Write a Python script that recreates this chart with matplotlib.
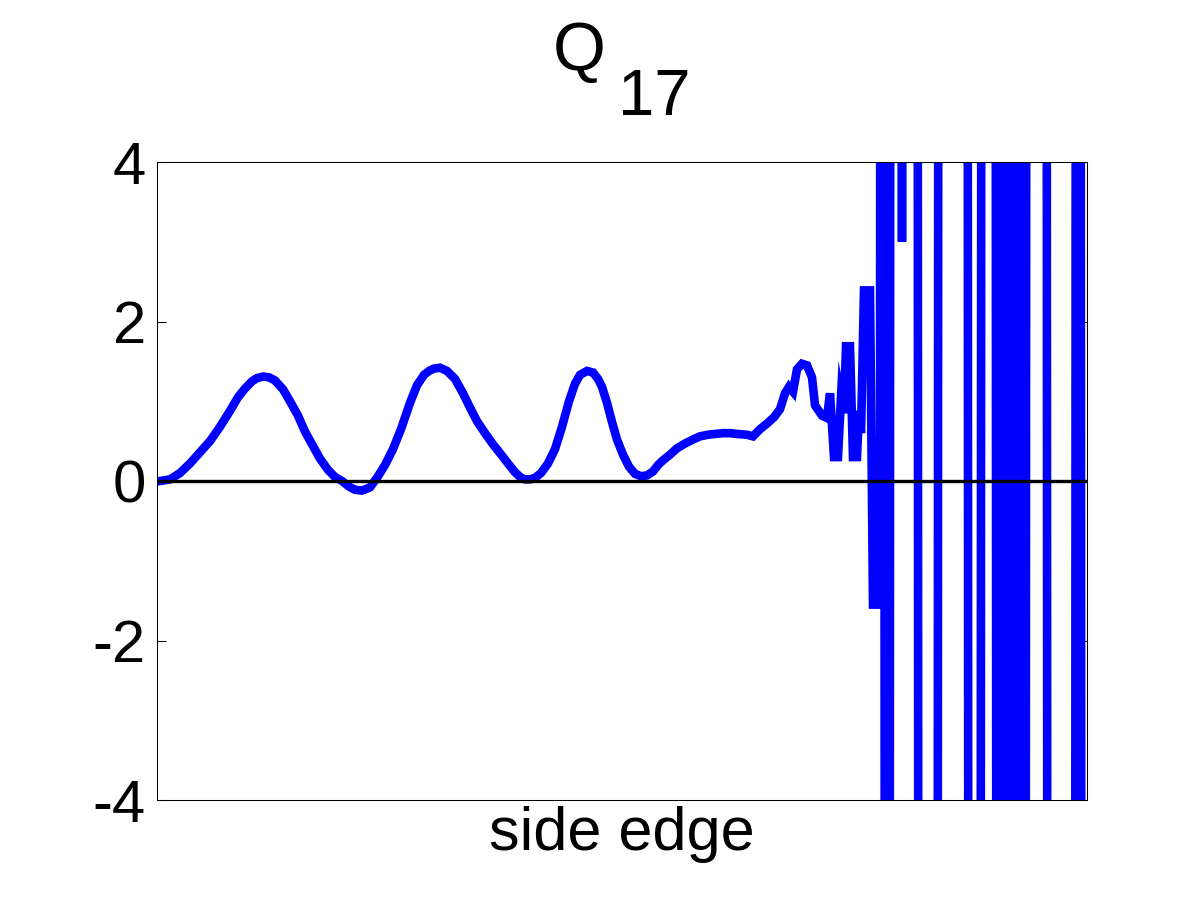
import numpy as np
import matplotlib
matplotlib.use("Agg")
import matplotlib.pyplot as plt

plt.rcParams['font.family'] = ['Liberation Sans', 'DejaVu Sans']

# position along the side edge (0..930) and Q_17 value
smooth_pos = [3, 13, 23, 33, 43, 53, 63, 73, 81, 88,
              95, 100, 106, 112, 118, 126, 133, 141, 148, 156,
              163, 171, 178, 185, 192, 198, 205, 213, 220, 228,
              236, 244, 253, 260, 267, 272, 277, 283, 290, 298,
              306, 313, 320, 328, 336, 343, 351, 358, 364, 368,
              373, 378, 384, 391, 398, 405, 412, 418, 423, 430,
              436, 441, 445, 450, 455, 460, 466, 472, 478, 484,
              490, 496, 501, 506, 513, 520, 528, 536, 543, 551,
              558, 566, 573, 580, 590, 596, 603, 610, 617, 623,
              628, 632, 636, 640, 645, 650, 655, 658, 665, 670,
              673, 677, 681, 684, 687, 689, 693, 696, 700, 702,
              704, 707, 713, 716, 723]
smooth_q17 = [0.00, 0.02, 0.10, 0.22, 0.36, 0.50, 0.68, 0.88, 1.05, 1.16,
              1.25, 1.29, 1.31, 1.30, 1.26, 1.15, 1.00, 0.82, 0.62, 0.44,
              0.28, 0.14, 0.05, 0.00, -0.07, -0.11, -0.12, -0.08, 0.04, 0.20,
              0.40, 0.65, 0.98, 1.20, 1.33, 1.38, 1.41, 1.42, 1.38, 1.28,
              1.10, 0.92, 0.75, 0.60, 0.46, 0.35, 0.22, 0.11, 0.04, 0.02,
              0.02, 0.04, 0.10, 0.22, 0.40, 0.68, 1.00, 1.22, 1.33, 1.38,
              1.36, 1.28, 1.18, 0.98, 0.74, 0.52, 0.33, 0.18, 0.09, 0.06,
              0.07, 0.12, 0.20, 0.26, 0.33, 0.41, 0.47, 0.52, 0.56, 0.58,
              0.59, 0.60, 0.60, 0.59, 0.58, 0.56, 0.65, 0.72, 0.80, 0.90,
              1.10, 1.18, 1.12, 1.40, 1.47, 1.45, 1.30, 0.95, 0.82, 0.79,
              1.10, 0.30, 0.30, 1.05, 0.85, 1.69, 1.69, 0.30, 0.30, 0.88,
              0.60, 2.39, 2.39, -1.55, -1.55]

# blow-up near the corner: values far outside the plotted range (+-60)
burst_pos = [725, 730, 736, 741, 745, 748, 758, 764, 778, 784,
             808, 814, 821, 827, 836, 842, 848, 854, 860, 866,
             872, 887, 893, 916, 921, 927, 930]
burst_q17 = [60, -60, 60, 60, 3.0, 60, 60, -60, -60, 60,
             60, -60, -60, 60, 60, -60, 60, -60, 60, -60,
             60, 60, -60, -60, 60, -60, -60]

fig = plt.figure(figsize=(12, 9), dpi=100)
ax = fig.add_axes([157 / 1200, 100 / 900, 930 / 1200, 638 / 900])

ax.plot(smooth_pos + burst_pos, smooth_q17 + burst_q17, color='#0000ff',
        linewidth=6.2, solid_joinstyle='miter')
ax.axhline(0, color='black', linewidth=2.4)

ax.set_xlim(0, 930)
ax.set_ylim(-4, 4)
ax.set_yticks([-4, -2, 0, 2, 4])
ax.set_yticklabels(['-4', '-2', '0', '2', '4'])
ax.set_xticks([])
ax.tick_params(axis='y', direction='in', length=6.5, width=0.75,
               labelsize=43, pad=8, right=True)
for sp in ax.spines.values():
    sp.set_linewidth(0.75)

ax.set_xlabel('side edge', fontsize=44, labelpad=4)

# title Q_17 with full-size subscript
fig.text(553 / 1200, 1 - 70 / 900, 'Q', fontsize=49, ha='left', va='baseline')
fig.text(618 / 1200, 1 - 115 / 900, '17', fontsize=47, ha='left', va='baseline')

fig.savefig('out.png', dpi=100)
